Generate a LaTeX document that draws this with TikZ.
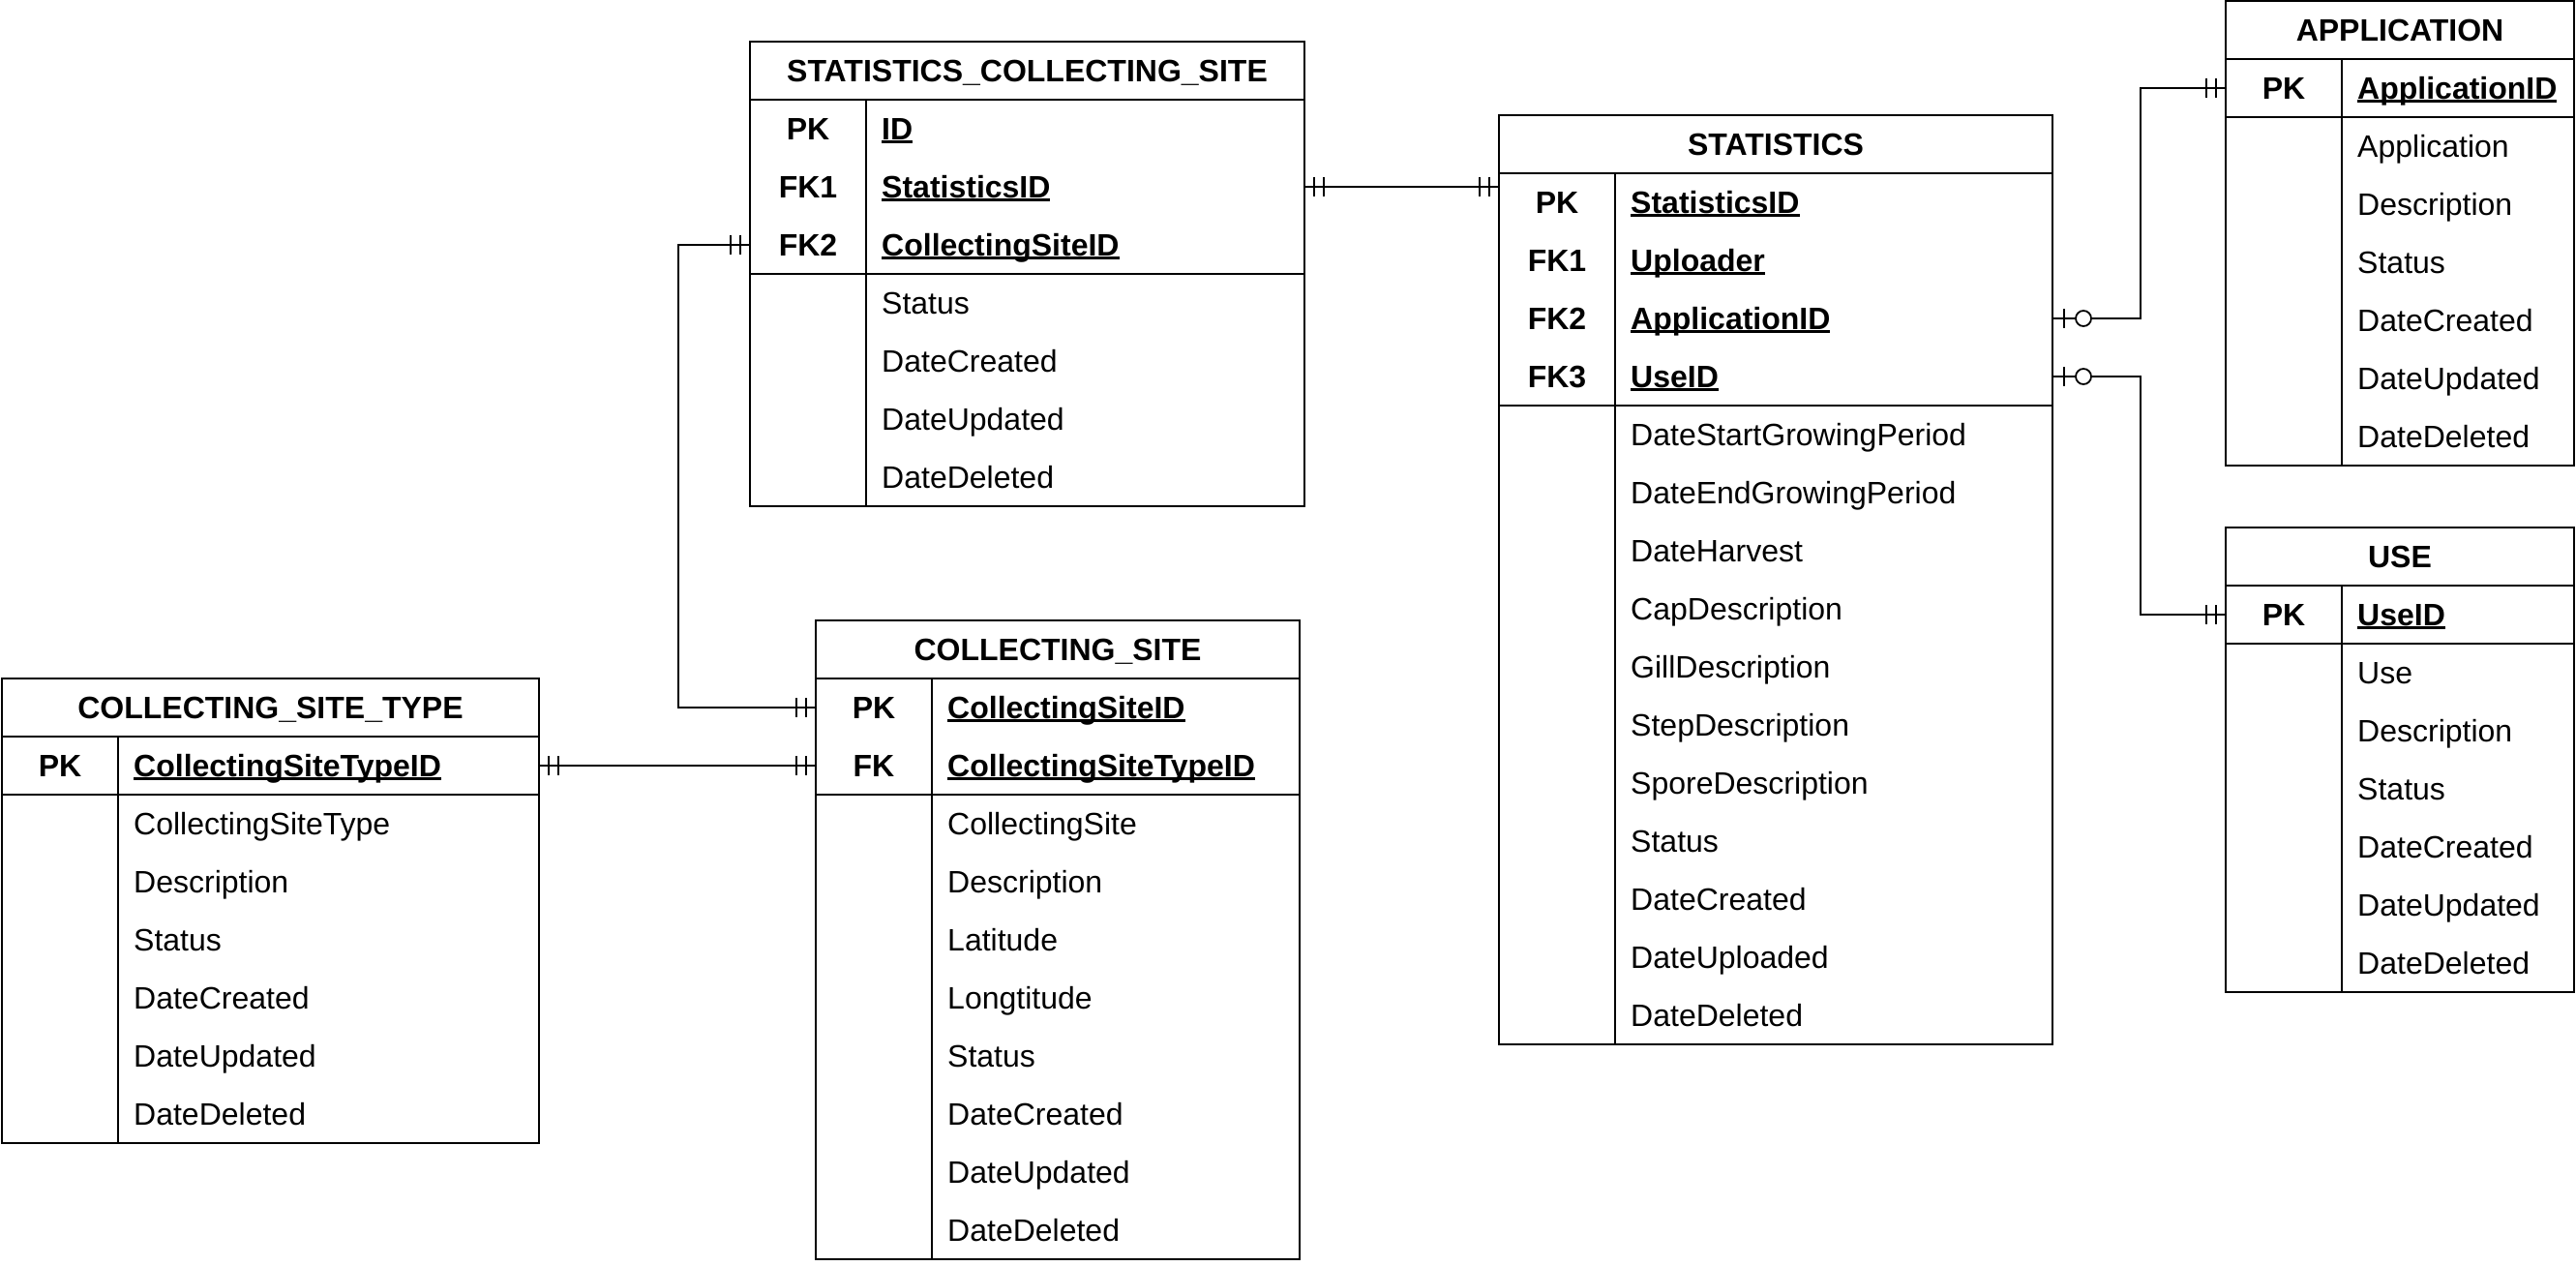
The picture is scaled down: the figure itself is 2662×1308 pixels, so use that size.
\documentclass[tikz,border=0pt]{standalone}
\usepackage{fontspec}
\setmainfont{Liberation Sans}
\usetikzlibrary{calc}
\newsavebox\ulbox
\newcommand\ulx[1]{\sbox\ulbox{#1}\rlap{\rule[-0.1em]{\wd\ulbox}{0.07em}}\usebox\ulbox}
\tikzset{
  tblline/.style={line width=1.8pt},
  conn/.style={line width=1.8pt},
  txt/.style={inner sep=0pt, text height=23pt, text depth=0pt, font=\fontsize{32}{38}\selectfont},
  btxt/.style={inner sep=0pt, text height=23pt, text depth=0pt, font=\fontsize{32}{38}\selectfont\bfseries}
}
% #1 name, #2 x, #3 y, #4 width, #5 key col width, #6 title, #7 keys, #8 fields
\newcommand{\ertable}[8]{%
  \begin{scope}[shift={(#2,#3)}]
    \node[btxt] (#1) at (#4/2,30) {#6};
    \foreach [count=\i] \kk/\ff in {#7} {
      \node[btxt] (#1-k\i) at (#5/2,30+60*\i) {\kk};
      \node[btxt, anchor=west] (#1-f\i) at (#5+16,30+60*\i) {\ulx{\ff}};
      \coordinate (#1-L\i) at (0,30+60*\i);
      \coordinate (#1-R\i) at (#4,30+60*\i);
      \xdef\nk{\i}
    }
    \foreach [count=\j] \ff in {#8} {
      \node[txt, anchor=west] (#1-g\j) at (#5+16,30+60*\nk+60*\j) {\ff};
      \xdef\nf{\j}
    }
    \draw[tblline] (0,0) rectangle (#4,60+60*\nk+60*\nf);
    \draw[tblline] (0,60) -- (#4,60);
    \draw[tblline] (0,60+60*\nk) -- (#4,60+60*\nk);
    \draw[tblline] (#5,60) -- (#5,60+60*\nk+60*\nf);
  \end{scope}
}
% double bar mark: #1 point, #2 direction (+1 line goes right, -1 line goes left)
\newcommand{\twobars}[2]{%
  \draw[tblline] ($(#1)+(#2*10,-10)$) -- ($(#1)+(#2*10,10)$);
  \draw[tblline] ($(#1)+(#2*20,-10)$) -- ($(#1)+(#2*20,10)$);
}
\newcommand{\zeroone}[2]{%
  \draw[tblline] ($(#1)+(#2*12,-10)$) -- ($(#1)+(#2*12,10)$);
  \draw[tblline, fill=white] ($(#1)+(#2*32,0)$) circle (8pt);
}
\begin{document}
\begin{tikzpicture}[x=1pt,y=-1pt]
\useasboundingbox (0,0) rectangle (2662,1308);

\ertable{scs}{775}{43}{573}{120}{STATISTICS\_COLLECTING\_SITE}
  {PK/ID, FK1/StatisticsID, FK2/CollectingSiteID}
  {Status, DateCreated, DateUpdated, DateDeleted}

\ertable{stat}{1549}{119}{572}{120}{STATISTICS}
  {PK/StatisticsID, FK1/Uploader, FK2/ApplicationID, FK3/UseID}
  {DateStartGrowingPeriod, DateEndGrowingPeriod, DateHarvest, CapDescription, GillDescription, StepDescription, SporeDescription, Status, DateCreated, DateUploaded, DateDeleted}

\ertable{app}{2300}{1}{360}{120}{APPLICATION}
  {PK/ApplicationID}
  {Application, Description, Status, DateCreated, DateUpdated, DateDeleted}

\ertable{use}{2300}{545}{360}{120}{USE}
  {PK/UseID}
  {Use, Description, Status, DateCreated, DateUpdated, DateDeleted}

\ertable{cs}{843}{641}{500}{120}{COLLECTING\_SITE}
  {PK/CollectingSiteID, FK/CollectingSiteTypeID}
  {CollectingSite, Description, Latitude, Longtitude, Status, DateCreated, DateUpdated, DateDeleted}

\ertable{cst}{2}{701}{555}{120}{COLLECTING\_SITE\_TYPE}
  {PK/CollectingSiteTypeID}
  {CollectingSiteType, Description, Status, DateCreated, DateUpdated, DateDeleted}

% connectors
\coordinate (c1) at (scs-R2 -| stat-L1);
\draw[conn] (scs-R2) -- (c1);
\twobars{scs-R2}{1}
\twobars{c1}{-1}

\draw[conn] (scs-L3) -- ++(-74,0) |- (cs-L1);
\twobars{scs-L3}{-1}
\twobars{cs-L1}{-1}

\draw[conn] (cst-R1) -- (cs-L2);
\twobars{cst-R1}{1}
\twobars{cs-L2}{-1}

\draw[conn] (stat-R3) -- ++(91,0) |- (app-L1);
\zeroone{stat-R3}{1}
\twobars{app-L1}{-1}

\draw[conn] (stat-R4) -- ++(91,0) |- (use-L1);
\zeroone{stat-R4}{1}
\twobars{use-L1}{-1}
\end{tikzpicture}
\end{document}
